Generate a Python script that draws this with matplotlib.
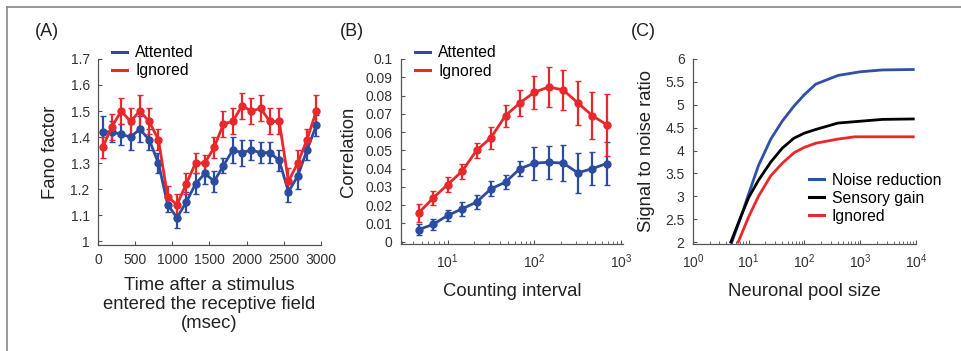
import matplotlib
matplotlib.use('Agg')
import matplotlib.pyplot as plt
from matplotlib.ticker import FuncFormatter, LogLocator, NullFormatter
from matplotlib.lines import Line2D

plt.rcParams['font.family'] = ['Liberation Sans', 'DejaVu Sans']

BLUE = '#2c4ca0'
RED = '#e8282b'

# (A) Fano factor vs time
time_ms = [62.5 + 125 * i for i in range(24)]
fano_att = [1.42, 1.42, 1.41, 1.40, 1.43, 1.39, 1.30, 1.14, 1.09, 1.15, 1.22, 1.26,
            1.23, 1.29, 1.35, 1.34, 1.35, 1.34, 1.34, 1.31, 1.19, 1.25, 1.35, 1.445]
fano_att_err = [0.06, 0.04, 0.04, 0.05, 0.05, 0.04, 0.04, 0.03, 0.04, 0.04, 0.04, 0.04,
                0.04, 0.03, 0.05, 0.05, 0.04, 0.04, 0.04, 0.04, 0.04, 0.05, 0.04, 0.04]
fano_ign = [1.36, 1.44, 1.50, 1.46, 1.50, 1.46, 1.39, 1.17, 1.14, 1.22, 1.30, 1.30,
            1.36, 1.45, 1.46, 1.52, 1.50, 1.51, 1.46, 1.46, 1.23, 1.30, 1.39, 1.50]
fano_ign_err = [0.04, 0.05, 0.05, 0.05, 0.06, 0.05, 0.04, 0.04, 0.04, 0.04, 0.04, 0.03,
                0.04, 0.05, 0.05, 0.05, 0.05, 0.05, 0.05, 0.05, 0.05, 0.05, 0.04, 0.06]

# (B) correlation vs counting interval
interval = [10 ** (2.0 / 3 + k / 6.0) for k in range(14)]
corr_att = [0.0067, 0.0095, 0.0144, 0.018, 0.0217, 0.029, 0.0326, 0.040, 0.043,
            0.0435, 0.043, 0.0377, 0.040, 0.0428]
corr_att_err = [0.003, 0.003, 0.003, 0.004, 0.004, 0.004, 0.004, 0.004, 0.009,
                0.009, 0.010, 0.011, 0.009, 0.012]
corr_ign = [0.0158, 0.024, 0.0313, 0.0386, 0.050, 0.057, 0.069, 0.076, 0.0818,
            0.0847, 0.083, 0.076, 0.069, 0.064]
corr_ign_err = [0.005, 0.004, 0.004, 0.004, 0.004, 0.006, 0.006, 0.007, 0.009,
                0.011, 0.011, 0.012, 0.013, 0.017]

# (C) signal to noise ratio vs pool size
pool_noise = [5, 7.5, 10, 15, 25, 40, 65, 100, 160, 400, 1000, 2500, 9000]
snr_noise = [2.0, 2.6, 3.05, 3.67, 4.25, 4.64, 4.97, 5.22, 5.45, 5.64, 5.72, 5.76, 5.77]
pool_gain = [4.8, 7.5, 10, 15, 25, 40, 65, 100, 160, 400, 1000, 2500, 9000]
snr_gain = [2.0, 2.6, 2.97, 3.35, 3.75, 4.05, 4.27, 4.38, 4.46, 4.60, 4.64, 4.68, 4.69]
pool_ign = [6.5, 10, 15, 25, 40, 65, 100, 160, 400, 800, 9000]
snr_ign = [2.0, 2.55, 3.0, 3.45, 3.72, 3.95, 4.07, 4.16, 4.25, 4.30, 4.30]

fig = plt.figure(figsize=(9.61, 3.51), dpi=100)

LABEL_FS = 13.3
TICK_FS = 10
LEG_FS = 11.3

def style_axes(ax):
    ax.spines['top'].set_visible(False)
    ax.spines['right'].set_visible(False)
    for s in ['left', 'bottom']:
        ax.spines[s].set_color('#555555')
        ax.spines[s].set_linewidth(0.9)
    ax.tick_params(which='both', direction='in', colors='#555555', labelcolor='#333333',
                   labelsize=TICK_FS, pad=6)
    ax.tick_params(which='major', length=3)
    ax.tick_params(which='minor', length=2)

def line_legend(ax, colors, labels, anchor):
    handles = [Line2D([], [], color=c, lw=2.2) for c in colors]
    ax.legend(handles, labels, loc='upper left', bbox_to_anchor=anchor, frameon=False,
              fontsize=LEG_FS, handlelength=0.95, handletextpad=0.5, labelspacing=0.2,
              borderaxespad=0)

g = FuncFormatter(lambda v, p: '%g' % v)

axA = fig.add_axes([0.102, 0.302, 0.232, 0.53])
style_axes(axA)
axA.errorbar(time_ms, fano_att, yerr=fano_att_err, color=BLUE, lw=2, marker='o', ms=5,
             capsize=2, elinewidth=1.6)
axA.errorbar(time_ms, fano_ign, yerr=fano_ign_err, color=RED, lw=2, marker='o', ms=5,
             capsize=2, elinewidth=1.6)
axA.set_xlim(0, 3000)
axA.set_ylim(0.985, 1.7)
axA.set_xticks([0, 500, 1000, 1500, 2000, 2500, 3000])
axA.set_yticks([1, 1.1, 1.2, 1.3, 1.4, 1.5, 1.6, 1.7])
axA.yaxis.set_major_formatter(g)
axA.set_ylabel('Fano factor', fontsize=LABEL_FS, color='#222222', labelpad=8)
axA.set_xlabel('Time after a stimulus\nentered the receptive field\n(msec)',
               fontsize=LABEL_FS, color='#222222', linespacing=1.15, labelpad=7)
line_legend(axA, [BLUE, RED], ['Attented', 'Ignored'], (0.036, 1.107))

axB = fig.add_axes([0.4173, 0.305, 0.231, 0.527])
style_axes(axB)
axB.set_xscale('log')
axB.errorbar(interval, corr_att, yerr=corr_att_err, color=BLUE, lw=2, marker='o', ms=5,
             capsize=2, elinewidth=1.6)
axB.errorbar(interval, corr_ign, yerr=corr_ign_err, color=RED, lw=2, marker='o', ms=5,
             capsize=2, elinewidth=1.6)
axB.set_xlim(2.9, 1050)
axB.set_ylim(-0.0012, 0.1)
axB.set_yticks([0, 0.01, 0.02, 0.03, 0.04, 0.05, 0.06, 0.07, 0.08, 0.09, 0.1])
axB.yaxis.set_major_formatter(g)
axB.xaxis.set_minor_formatter(NullFormatter())
axB.set_ylabel('Correlation', fontsize=LABEL_FS, color='#222222', labelpad=6)
axB.set_xlabel('Counting interval', fontsize=LABEL_FS, color='#222222', labelpad=9)
line_legend(axB, [BLUE, RED], ['Attented', 'Ignored'], (0.036, 1.107))

axC = fig.add_axes([0.721, 0.305, 0.232, 0.527])
style_axes(axC)
axC.set_xscale('log')
axC.plot(pool_noise, snr_noise, color='#3050a8', lw=2)
axC.plot(pool_gain, snr_gain, color='black', lw=2)
axC.plot(pool_ign, snr_ign, color=RED, lw=2)
axC.set_xlim(1, 10000)
axC.set_ylim(1.96, 6)
axC.set_xticks([1, 10, 100, 1000, 10000])
axC.xaxis.set_minor_locator(LogLocator(base=10, subs=range(2, 10)))
axC.xaxis.set_minor_formatter(NullFormatter())
axC.set_yticks([2, 2.5, 3, 3.5, 4, 4.5, 5, 5.5, 6])
axC.yaxis.set_major_formatter(g)
axC.set_ylabel('Signal to noise ratio', fontsize=LABEL_FS, color='#222222', labelpad=7)
axC.set_xlabel('Neuronal pool size', fontsize=LABEL_FS, color='#222222', labelpad=9)
line_legend(axC, ['#3050a8', 'black', RED], ['Noise reduction', 'Sensory gain', 'Ignored'],
            (0.493, 0.42))

fig.text(0.036, 0.91, '(A)', fontsize=13, color='#222222', va='center')
fig.text(0.354, 0.91, '(B)', fontsize=13, color='#222222', va='center')
fig.text(0.656, 0.91, '(C)', fontsize=13, color='#222222', va='center')

# frame around the figure (top and left edge only)
fig.add_artist(Line2D([0.0073, 1.0], [0.979, 0.979], transform=fig.transFigure,
                      color='#888888', lw=1.2))
fig.add_artist(Line2D([0.0073, 0.0073], [0.0, 0.979], transform=fig.transFigure,
                      color='#888888', lw=1.2))

fig.savefig('out.png', dpi=100)
